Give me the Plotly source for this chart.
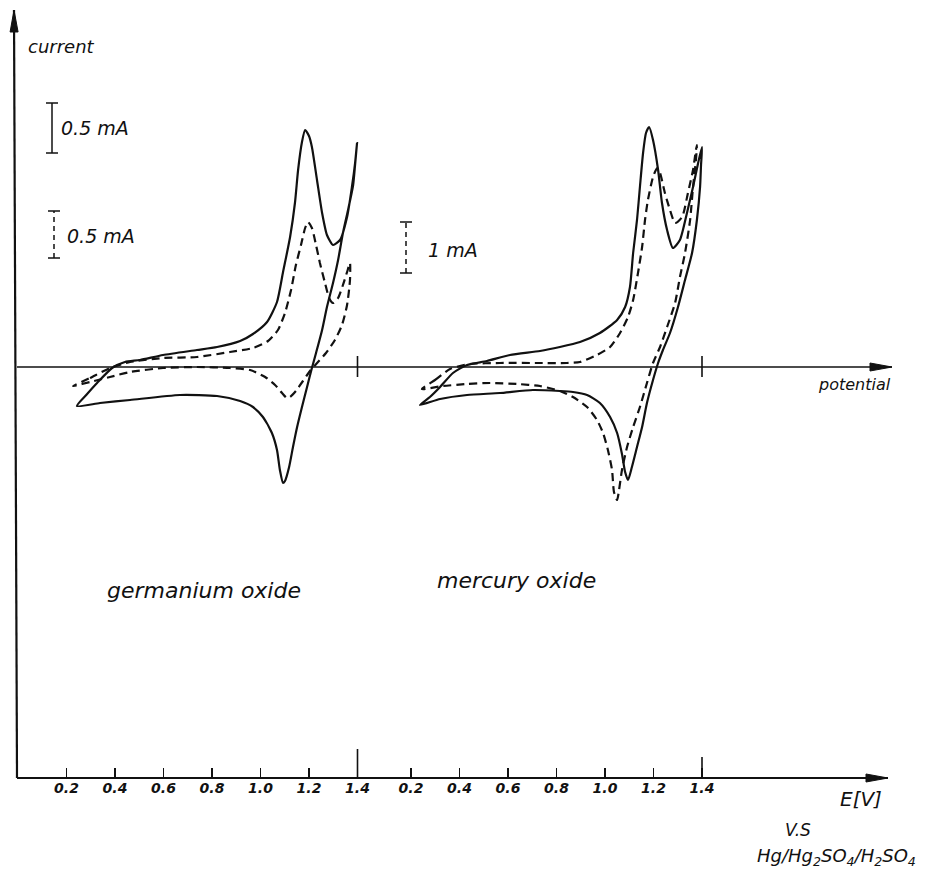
import plotly.graph_objects as go

# ---------------- data ----------------
# potential E in volts, current in display units (scale bar "0.5 mA" = 0.5)
ge_solid_E = [0.243, 0.285, 0.326, 0.388, 0.441, 0.503, 0.598, 0.738, 0.821, 0.916, 0.969, 1.027,
              1.068, 1.093, 1.122, 1.142, 1.155, 1.171, 1.184, 1.200, 1.212, 1.233, 1.254, 1.274,
              1.299, 1.328, 1.357, 1.377, 1.390, 1.398, 1.390, 1.382, 1.361, 1.340, 1.320, 1.299,
              1.274, 1.254, 1.229, 1.212, 1.192, 1.171, 1.151, 1.134, 1.118, 1.101, 1.093, 1.080,
              1.068, 1.047, 1.010, 0.969, 0.916, 0.821, 0.668, 0.462, 0.338, 0.243]
ge_solid_I = [-0.39, -0.27, -0.16, -0.01, 0.05, 0.07, 0.12, 0.17, 0.20, 0.26, 0.33, 0.45,
              0.65, 0.95, 1.30, 1.64, 1.97, 2.25, 2.37, 2.31, 2.20, 1.87, 1.54, 1.32,
              1.22, 1.27, 1.50, 1.80, 2.04, 2.24, 2.02, 1.82, 1.57, 1.34, 1.07, 0.84,
              0.60, 0.37, 0.14, -0.01, -0.20, -0.40, -0.60, -0.80, -1.00, -1.14, -1.16, -1.03,
              -0.83, -0.66, -0.50, -0.40, -0.34, -0.29, -0.28, -0.33, -0.36, -0.39]

ge_dash_E = [0.227, 0.297, 0.379, 0.462, 0.598, 0.738, 0.874, 0.969, 1.031, 1.072, 1.101, 1.126,
             1.146, 1.167, 1.184, 1.196, 1.212, 1.229, 1.245, 1.266, 1.283, 1.299, 1.320, 1.340,
             1.357, 1.369, 1.369, 1.357, 1.336, 1.307, 1.270, 1.237, 1.204, 1.175, 1.146, 1.122,
             1.109, 1.089, 1.060, 1.019, 0.957, 0.874, 0.738, 0.598, 0.462, 0.379, 0.297, 0.227]
ge_dash_I = [-0.19, -0.11, -0.01, 0.05, 0.09, 0.10, 0.15, 0.19, 0.26, 0.37, 0.54, 0.77,
             1.02, 1.22, 1.39, 1.45, 1.39, 1.22, 1.04, 0.84, 0.69, 0.64, 0.69, 0.82,
             0.95, 1.04, 0.87, 0.62, 0.42, 0.27, 0.14, 0.05, -0.04, -0.14, -0.24, -0.30,
             -0.31, -0.26, -0.18, -0.10, -0.03, -0.01, 0.00, -0.01, -0.05, -0.10, -0.15, -0.19]

hg_solid_E = [0.237, 0.278, 0.320, 0.373, 0.431, 0.513, 0.608, 0.732, 0.814, 0.897, 0.979, 1.050,
              1.083, 1.103, 1.116, 1.132, 1.144, 1.157, 1.169, 1.182, 1.198, 1.219, 1.235, 1.256,
              1.280, 1.309, 1.338, 1.363, 1.384, 1.400, 1.396, 1.392, 1.379, 1.359, 1.330, 1.301,
              1.268, 1.239, 1.219, 1.198, 1.173, 1.153, 1.132, 1.111, 1.095, 1.083, 1.070, 1.050,
              1.021, 0.979, 0.926, 0.868, 0.814, 0.703, 0.567, 0.431, 0.320, 0.237]
hg_solid_I = [-0.38, -0.30, -0.20, -0.06, 0.02, 0.06, 0.12, 0.16, 0.20, 0.25, 0.34, 0.47,
              0.60, 0.80, 1.14, 1.47, 1.80, 2.14, 2.34, 2.40, 2.27, 1.97, 1.64, 1.37,
              1.19, 1.27, 1.54, 1.80, 2.04, 2.20, 2.02, 1.80, 1.47, 1.14, 0.87, 0.60,
              0.34, 0.17, 0.04, -0.13, -0.36, -0.60, -0.80, -1.00, -1.13, -1.05, -0.87, -0.66,
              -0.50, -0.36, -0.28, -0.25, -0.24, -0.23, -0.26, -0.28, -0.32, -0.38]

hg_dash_E = [0.245, 0.299, 0.361, 0.443, 0.567, 0.732, 0.843, 0.897, 0.967, 1.021, 1.062, 1.095,
             1.116, 1.136, 1.153, 1.165, 1.177, 1.198, 1.215, 1.227, 1.247, 1.268, 1.289, 1.318,
             1.342, 1.363, 1.375, 1.379, 1.375, 1.363, 1.351, 1.330, 1.309, 1.289, 1.256, 1.227,
             1.198, 1.173, 1.144, 1.116, 1.091, 1.070, 1.058, 1.050, 1.037, 1.029, 1.012, 0.992,
             0.967, 0.926, 0.868, 0.814, 0.732, 0.637, 0.526, 0.431, 0.332, 0.245]
hg_dash_I = [-0.22, -0.13, -0.02, 0.03, 0.04, 0.04, 0.04, 0.05, 0.12, 0.20, 0.34, 0.50,
             0.67, 0.94, 1.20, 1.47, 1.67, 1.90, 1.99, 1.94, 1.74, 1.57, 1.44, 1.50,
             1.74, 1.97, 2.17, 2.22, 2.07, 1.80, 1.47, 1.14, 0.90, 0.64, 0.40, 0.20,
             0.04, -0.16, -0.40, -0.60, -0.80, -1.03, -1.23, -1.33, -1.25, -1.03, -0.83, -0.66,
             -0.53, -0.40, -0.30, -0.24, -0.19, -0.17, -0.16, -0.17, -0.19, -0.22]

tick_E = [0.2, 0.4, 0.6, 0.8, 1.0, 1.2, 1.4]
tick_text = ["0.2", "0.4", "0.6", "0.8", "1.0", "1.2", "1.4"]

scale_labels = ["0.5 mA", "0.5 mA", "1 mA"]
scale_lengths = [0.5, 0.47, 0.51]   # drawn length in display units

# ---------------- layout geometry ----------------
W, H = 926, 876
PX_PER_V = 242.5          # horizontal scale
PX_PER_UNIT = 100.0       # vertical scale
X0_PX, Y0_PX = 18.0, 367.0  # origin (0 V of left panel, zero current)
OFFSET = 1.4206           # shift of the right-hand (mercury) panel, in V
BOTTOM_AXIS_PX = 778.0


def px2x(px):
    return (px - X0_PX) / PX_PER_V


def py2y(py):
    return (Y0_PX - py) / PX_PER_UNIT


y_axis_bottom = py2y(BOTTOM_AXIS_PX)
x_range = [px2x(0), px2x(W)]
y_range = [py2y(H), py2y(0)]

INK = "#111111"
FONT = "DejaVu Sans"
DASH = "8px,5px"

fig = go.Figure()


def add_curve(E, I, shift, dash):
    fig.add_trace(go.Scatter(
        x=[e + shift for e in E], y=I, mode="lines",
        line=dict(color=INK, width=2.2, dash=dash, shape="spline", smoothing=0.6),
        hoverinfo="skip", showlegend=False))


add_curve(ge_solid_E, ge_solid_I, 0.0, "solid")
add_curve(ge_dash_E, ge_dash_I, 0.0, DASH)
add_curve(hg_solid_E, hg_solid_I, OFFSET, "solid")
add_curve(hg_dash_E, hg_dash_I, OFFSET, DASH)

# ---------------- scale bars ----------------
bar_specs = [  # (x px, bottom py, style)
    (52, 153, "solid"),
    (54, 258, "5px,4px"),
    (406, 273, "5px,4px"),
]
label_px = [(59, 128), (65, 236), (426, 250)]
serif = 6 / PX_PER_V
for (bx, by, style), length, lab, (lx, ly) in zip(bar_specs, scale_lengths, scale_labels, label_px):
    x = px2x(bx)
    y0 = py2y(by)
    y1 = y0 + length
    fig.add_shape(type="line", x0=x, x1=x, y0=y0, y1=y1,
                  line=dict(color=INK, width=1.5, dash=style))
    for yy in (y0, y1):
        fig.add_shape(type="line", x0=x - serif, x1=x + serif, y0=yy, y1=yy,
                      line=dict(color=INK, width=1.5))
    fig.add_annotation(x=px2x(lx), y=py2y(ly), text=lab, showarrow=False,
                       xanchor="left", yanchor="middle",
                       font=dict(family=FONT, size=19, color=INK, style="italic"))


# ---------------- axes: lines with narrow filled arrowheads ----------------
HEAD_LEN, HEAD_HALF = 22, 4


def axis_arrow(tail_px, head_px, width):
    (tx, ty), (hx, hy) = tail_px, head_px
    fig.add_shape(type="line", x0=px2x(tx), y0=py2y(ty), x1=px2x(hx), y1=py2y(hy),
                  line=dict(color=INK, width=width))
    dx, dy = hx - tx, hy - ty
    n = (dx * dx + dy * dy) ** 0.5
    ux, uy = dx / n, dy / n
    bx, by = hx - ux * HEAD_LEN, hy - uy * HEAD_LEN
    p1 = (bx - uy * HEAD_HALF, by + ux * HEAD_HALF)
    p2 = (bx + uy * HEAD_HALF, by - ux * HEAD_HALF)
    path = "M {} {} L {} {} L {} {} Z".format(
        px2x(hx), py2y(hy), px2x(p1[0]), py2y(p1[1]), px2x(p2[0]), py2y(p2[1]))
    fig.add_shape(type="path", path=path, fillcolor=INK, line=dict(color=INK, width=1))


axis_arrow((17, BOTTOM_AXIS_PX), (14, 10), 2.2)     # current axis
axis_arrow((17, Y0_PX), (892, Y0_PX), 1.6)          # potential axis
axis_arrow((17, BOTTOM_AXIS_PX), (888, BOTTOM_AXIS_PX), 2.0)  # E axis

# long ticks at 1.4 V on both horizontal axes
for shift, top_px in ((0.0, 749), (OFFSET, 757)):
    xx = tick_E[-1] + shift
    fig.add_shape(type="line", x0=xx, x1=xx, y0=y_axis_bottom, y1=py2y(top_px),
                  line=dict(color=INK, width=1.6))
    fig.add_shape(type="line", x0=xx, x1=xx, y0=py2y(377), y1=py2y(356),
                  line=dict(color=INK, width=1.6))


# ---------------- texts ----------------
def label(text, px, py, size, anchor="center"):
    fig.add_annotation(x=px2x(px), y=py2y(py), text=text, showarrow=False,
                       xanchor=anchor, yanchor="middle",
                       font=dict(family=FONT, size=size, color=INK, style="italic"))


label("current", 26, 46, 18, "left")
label("potential", 854, 384, 16)
label("germanium oxide", 204, 590, 22)
label("mercury oxide", 516, 580, 22)
label("E[V]", 861, 799, 20)
label("V.S", 798, 830, 17)
label("Hg/Hg<sub>2</sub>SO<sub>4</sub>/H<sub>2</sub>SO<sub>4</sub>", 836, 857, 18)

tickvals = [e for e in tick_E] + [e + OFFSET for e in tick_E]
ticktext = tick_text + tick_text

fig.update_layout(
    width=W, height=H,
    margin=dict(l=0, r=0, t=0, b=0),
    paper_bgcolor="white", plot_bgcolor="white",
    xaxis=dict(range=x_range, showgrid=False, zeroline=False, showline=False,
               anchor="free", position=(y_axis_bottom - y_range[0]) / (y_range[1] - y_range[0]),
               tickmode="array", tickvals=tickvals, ticktext=ticktext,
               ticks="inside", ticklen=10, tickwidth=1.6, tickcolor=INK,
               tickfont=dict(family=FONT, size=14, color=INK, style="italic", weight="bold")),
    yaxis=dict(range=y_range, showgrid=False, zeroline=False, showline=False,
               showticklabels=False, ticks=""),
    showlegend=False,
)

fig.write_html(
    "out.html",
    config={"displayModeBar": False, "staticPlot": True},
    post_script="document.body.style.margin='0px';document.body.style.overflow='hidden';",
)
